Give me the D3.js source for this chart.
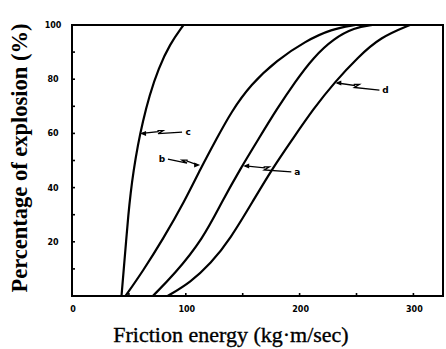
<!DOCTYPE html>
<html><head><meta charset="utf-8">
<script src="https://cdn.jsdelivr.net/npm/d3@7/dist/d3.min.js"></script>
<style>body{margin:0;background:#fff}svg{display:block}</style>
</head><body><svg id="c" width="446" height="349"></svg>
<script>
// Curves: [friction energy, % explosion]
const curveC = [[43.5,0],[45.5,10],[47.5,20],[49.5,30],[51.5,38],[54,46],[58,56],[62,64],[68,74],[76,84],[86,93],[98,100]];
const curveB = [[47,0],[62,9],[80,21],[99,35],[113,47],[127,58],[140,68],[157,78],[180,87],[205,94],[228,98.5],[249,100]];
const curveA = [[71,0],[90,8],[115,21],[132,35],[148,47],[164,58],[180,69],[196,79],[212,88],[230,95],[248,99],[264,100]];
const curveD = [[84,0],[104,5],[122,12],[139,21],[159,35],[176,47],[194,58],[212,69],[231,79],[251,88],[271,95.5],[297,100]];
const seriesNames = ["c","b","a","d"];
// annotation: tip on curve, label position
const annTip = [[59.8,60],[112.6,48.3],[150.4,48],[231.4,78.6]];
const annLabel = [[102,60.5],[79,50.5],[198,45.8],[275.4,76]];
const xTickLabels = [0,100,200,300];
const yTickLabels = [20,40,60,80,100];

const svg = d3.select("#c");
const x = d3.scaleLinear().domain([0,326]).range([72,443]);
const y = d3.scaleLinear().domain([0,100]).range([296,25]);

// frame
svg.append("rect").attr("x",x(0)).attr("y",y(100)).attr("width",x(326)-x(0)).attr("height",y(0)-y(100))
  .attr("fill","none").attr("stroke","#000").attr("stroke-width",2);

// ticks
const g = svg.append("g").attr("stroke","#000").attr("stroke-width",1.6);
d3.range(10,100,10).forEach(v=>g.append("line").attr("x1",x(0)).attr("x2",x(0)+3).attr("y1",y(v)).attr("y2",y(v)));
d3.range(50,326,50).forEach(v=>g.append("line").attr("x1",x(v)).attr("x2",x(v)).attr("y1",y(0)).attr("y2",y(0)-3));

const tf = "DejaVu Sans, sans-serif";
svg.selectAll(".xt").data(xTickLabels).enter().append("text")
  .attr("x",d=>x(d)+1).attr("y",y(0)+16).attr("text-anchor","middle")
  .attr("font-family",tf).attr("font-weight","bold").attr("font-size",8).text(d=>d);
svg.selectAll(".yt").data(yTickLabels).enter().append("text")
  .attr("x",53).attr("y",d=>y(d)+3).attr("text-anchor","middle")
  .attr("font-family",tf).attr("font-weight","bold").attr("font-size",8).text(d=>d);

// curves
const line = d3.line().x(d=>x(d[0])).y(d=>y(d[1])).curve(d3.curveBasis);
[curveC,curveB,curveA,curveD].forEach(c=>{
  svg.append("path").attr("d",line(c)).attr("fill","none").attr("stroke","#000").attr("stroke-width",2.2);
});

// annotations
seriesNames.forEach((n,i)=>{
  const tx=x(annTip[i][0]), ty=y(annTip[i][1]);
  const lx=x(annLabel[i][0]), ly=y(annLabel[i][1]);
  const dir = lx>tx?1:-1;
  const ex = lx - dir*6, ey = ly;
  const mx = (tx+ex)/2, my=(ty+ey)/2;
  const p = d3.path();
  p.moveTo(tx+dir*2,ty); p.lineTo(mx-dir*3,my-1); p.lineTo(mx-dir*3,my-2);p.lineTo(mx+dir*2,my-2);
  p.lineTo(mx-dir*3,my+1); p.lineTo(ex,ey);
  svg.append("path").attr("d",p.toString()).attr("fill","none").attr("stroke","#000").attr("stroke-width",1.3);
  svg.append("path").attr("d",`M${tx},${ty}L${tx+dir*6},${ty-2.5}L${tx+dir*6},${ty+2.5}Z`).attr("fill","#000");
  svg.append("text").attr("x",lx).attr("y",ly+3).attr("text-anchor","middle")
    .attr("font-family",tf).attr("font-weight","bold").attr("font-size",9).text(n);
});

// titles
svg.append("text").attr("x",231).attr("y",342).attr("text-anchor","middle")
  .attr("font-family","Liberation Serif, serif").attr("font-size",22).attr("stroke","#000").attr("stroke-width",0.35)
  .text("Friction energy (kg\u00b7m/sec)");
svg.append("text").attr("transform","translate(27,158) rotate(-90)").attr("text-anchor","middle")
  .attr("font-family","Liberation Serif, serif").attr("font-weight","bold").attr("font-size",22.5)
  .text("Percentage of explosion (%)");
</script></body></html>
